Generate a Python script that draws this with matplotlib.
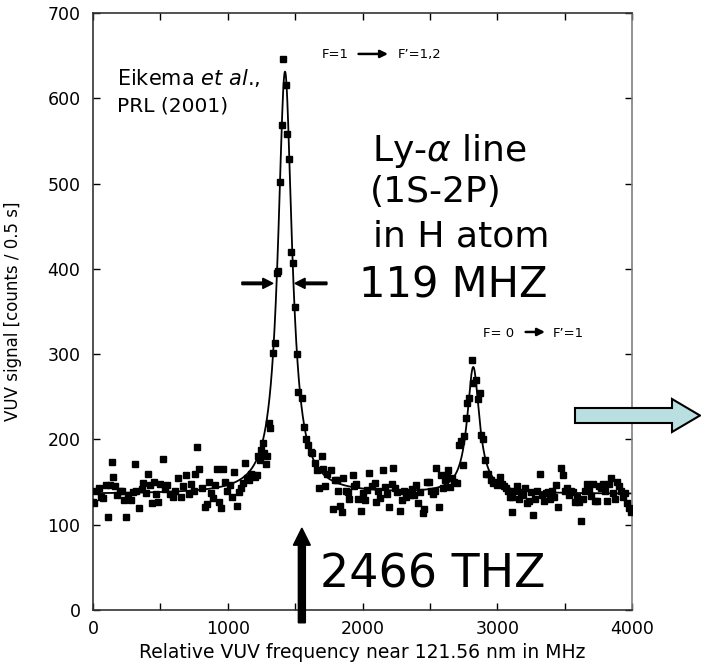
import numpy as np
import matplotlib.pyplot as plt
from matplotlib.patches import FancyArrow

plt.rcParams['font.family'] = ['DejaVu Sans']

# measured points (frequency in MHz, counts / 0.5 s)
freq = [0, 10, 25, 45, 60, 75, 95, 110, 125, 140, 150, 160, 180, 200, 215, 230, 245, 260, 280, 300,
        310, 320, 340, 360, 370, 390, 410, 425, 440, 455, 470, 485, 500, 520, 535, 550, 570, 590, 610, 630,
        650, 670, 690, 710, 730, 750, 760, 775, 790, 810, 830, 845, 860, 875, 890, 905, 920, 935, 950, 965,
        980, 995,
        1015, 1030, 1050, 1065, 1080, 1100, 1115, 1125, 1140, 1155, 1170, 1185, 1200, 1215, 1228, 1240,
        1250, 1258, 1270, 1283, 1292, 1303, 1315, 1338, 1350, 1368, 1372, 1387, 1402, 1410, 1431, 1442,
        1455, 1471, 1484, 1499, 1511, 1523, 1548,
        1565, 1580, 1597, 1615, 1627, 1647, 1659, 1677, 1697, 1710, 1721, 1740, 1766, 1783, 1795, 1808,
        1820, 1832, 1850, 1857, 1875, 1890, 1900, 1926, 1940, 1955, 1970, 1988,
        2005, 2018, 2035, 2050, 2070, 2092, 2100, 2115, 2131, 2149, 2164, 2180, 2199, 2216, 2228, 2240,
        2255, 2277, 2290, 2305, 2320, 2335, 2350, 2365, 2380, 2395, 2414, 2430, 2448, 2460, 2480, 2493,
        2505, 2520, 2535, 2549, 2569, 2579, 2595, 2611, 2625, 2636, 2650, 2665, 2680, 2698, 2718, 2730,
        2743, 2752, 2765, 2777, 2792, 2809, 2822, 2841, 2858, 2871, 2883, 2895, 2908, 2920, 2935, 2950,
        2970, 2985,
        3000, 3019, 3035, 3050, 3065, 3080, 3095, 3106, 3113, 3128, 3143, 3160, 3175, 3190, 3205, 3220,
        3235, 3250, 3266, 3280, 3295, 3316, 3330, 3345, 3360, 3375, 3390, 3405, 3420, 3435, 3452, 3470,
        3489, 3500, 3515, 3530, 3545, 3560, 3575, 3590, 3605, 3618, 3635, 3650, 3665, 3680, 3695, 3710,
        3725, 3740, 3755, 3770, 3785, 3800, 3815, 3830, 3845, 3860, 3875, 3890, 3905, 3920, 3935, 3950,
        3965, 3975, 3990]
counts = [127, 125, 140, 143, 133, 131, 146, 109, 147, 174, 156, 145, 135, 139, 140, 129, 109, 135, 129, 138,
          171, 139, 120, 142, 149, 137, 160, 146, 125, 150, 136, 127, 148, 177, 142, 147, 136, 133, 140, 155,
          132, 145, 158, 136, 148, 140, 159, 191, 165, 143, 121, 124, 150, 137, 131, 147, 165, 127, 120, 165,
          150, 140,
          147, 133, 162, 122, 138, 143, 149, 172, 155, 152, 160, 158, 156, 158, 180, 176,
          188, 196, 184, 171, 180, 219, 213, 301, 313, 395, 398, 502, 569, 646, 615, 558,
          529, 420, 407, 355, 300, 256, 248,
          215, 201, 193, 185, 184, 172, 164, 143, 180, 165, 145, 160, 164, 118, 152, 152,
          140, 122, 115, 155, 140, 138, 130, 158, 145, 148, 130, 116,
          137, 129, 141, 161, 145, 149, 127, 140, 131, 164, 144, 136, 121, 148, 167, 143,
          138, 116, 129, 140, 132, 138, 135, 142, 135, 146, 125, 138, 114, 118, 150, 150,
          139, 136, 140, 166, 121, 158, 143, 152, 158, 164, 144, 155, 150, 149, 193, 198,
          170, 204, 225, 243, 249, 293, 266, 270, 247, 255, 205, 201, 176, 160, 160, 152,
          149, 150,
          147, 156, 148, 145, 143, 140, 133, 115, 133, 140, 145, 130, 138, 135, 143, 125,
          128, 138, 111, 130, 140, 159, 135, 128, 137, 138, 130, 140, 133, 146, 121, 166,
          158, 140, 143, 135, 140, 138, 127, 133, 127, 104, 130, 140, 148, 142, 134, 148,
          128, 128, 145, 143, 148, 140, 128, 148, 155, 137, 130, 150, 145, 140, 132, 137,
          125, 120, 115]

# Lorentzian fit parameters (two lines on a flat background)
background = 136
centers = [1425, 2822]
amplitudes = [495, 148]
fwhms = [125, 110]

f_fit = np.linspace(0, 4000, 3000)
fit = np.full_like(f_fit, background, dtype=float)
for c, a, w in zip(centers, amplitudes, fwhms):
    fit += a * (w / 2) ** 2 / ((f_fit - c) ** 2 + (w / 2) ** 2)

fig = plt.figure(figsize=(7.01, 6.70), dpi=100)
ax = fig.add_axes([93 / 701, 60 / 670, 539 / 701, 597 / 670])

ax.plot(f_fit, fit, color='black', lw=1.3, zorder=2)
ax.plot(freq, counts, 's', color='black', ms=3.8, zorder=3)

ax.set_xlim(0, 4000)
ax.set_ylim(0, 700)
ax.set_xticks(range(0, 4001, 500))
ax.set_xticklabels(['0', '', '1000', '', '2000', '', '3000', '', '4000'])
ax.set_yticks(range(0, 701, 100))
ax.tick_params(direction='in', top=True, right=True, length=5, width=1, labelsize=12.5)
ax.tick_params(axis='y', pad=9)
ax.tick_params(axis='x', pad=7)
for s in ax.spines.values():
    s.set_linewidth(1.2)
    s.set_color('#333333')
ax.spines['right'].set_color('#808080')

ax.set_xlabel('Relative VUV frequency near 121.56 nm in MHz', fontsize=13.5, labelpad=4)
ax.set_ylabel('VUV signal [counts / 0.5 s]', fontsize=12)
ax.yaxis.set_label_coords(-0.131, 0.5)

# annotations
ax.text(178, 615, r'Eikema $\mathit{et\ al}$.,', fontsize=15, va='baseline')
ax.text(178, 584, 'PRL (2001)', fontsize=14.5, va='baseline')

ax.text(1700, 647, 'F=1', fontsize=9.5, va='baseline')
ax.annotate('', xy=(2210, 652), xytext=(1950, 652),
            arrowprops=dict(arrowstyle='-|>', lw=1.8, color='black', mutation_scale=11))
ax.text(2260, 647, 'F\u2019=1,2', fontsize=9.5, va='baseline')

ax.text(2893, 320, 'F= 0', fontsize=9.5, va='baseline')
ax.annotate('', xy=(3375, 326), xytext=(3190, 326),
            arrowprops=dict(arrowstyle='-|>', lw=1.8, color='black', mutation_scale=11))
ax.text(3410, 320, 'F\u2019=1', fontsize=9.5, va='baseline')

ax.text(2070, 527, r'Ly-$\alpha$ line', fontsize=26, va='baseline')
ax.text(2055, 478, '(1S-2P)', fontsize=26, va='baseline')
ax.text(2077, 426, 'in H atom', fontsize=26, va='baseline')
ax.text(1973, 366, '119 MHZ', fontsize=30, va='baseline')
ax.text(1684, 26, '2466 THZ', fontsize=33, va='baseline')

# FWHM markers
ax.add_patch(FancyArrow(1105, 383, 230, 0, width=3, head_width=12, head_length=75,
                        length_includes_head=True, color='black', zorder=4))
ax.add_patch(FancyArrow(1736, 383, -237, 0, width=3, head_width=12, head_length=75,
                        length_includes_head=True, color='black', zorder=4))

# line position arrow
ax.add_patch(FancyArrow(1550, -15, 0, 111, width=52, head_width=126, head_length=20,
                        length_includes_head=True, color='black', clip_on=False, zorder=4))

# block arrow on the right
fig.add_artist(FancyArrow(575 / 701, (670 - 415.5) / 670, 125 / 701, 0,
                          width=15 / 670, head_width=33 / 670, head_length=28 / 701,
                          length_includes_head=True, facecolor='#b9dfe1', edgecolor='black',
                          lw=1.5, transform=fig.transFigure, zorder=5))

fig.savefig('out.png', dpi=100)
